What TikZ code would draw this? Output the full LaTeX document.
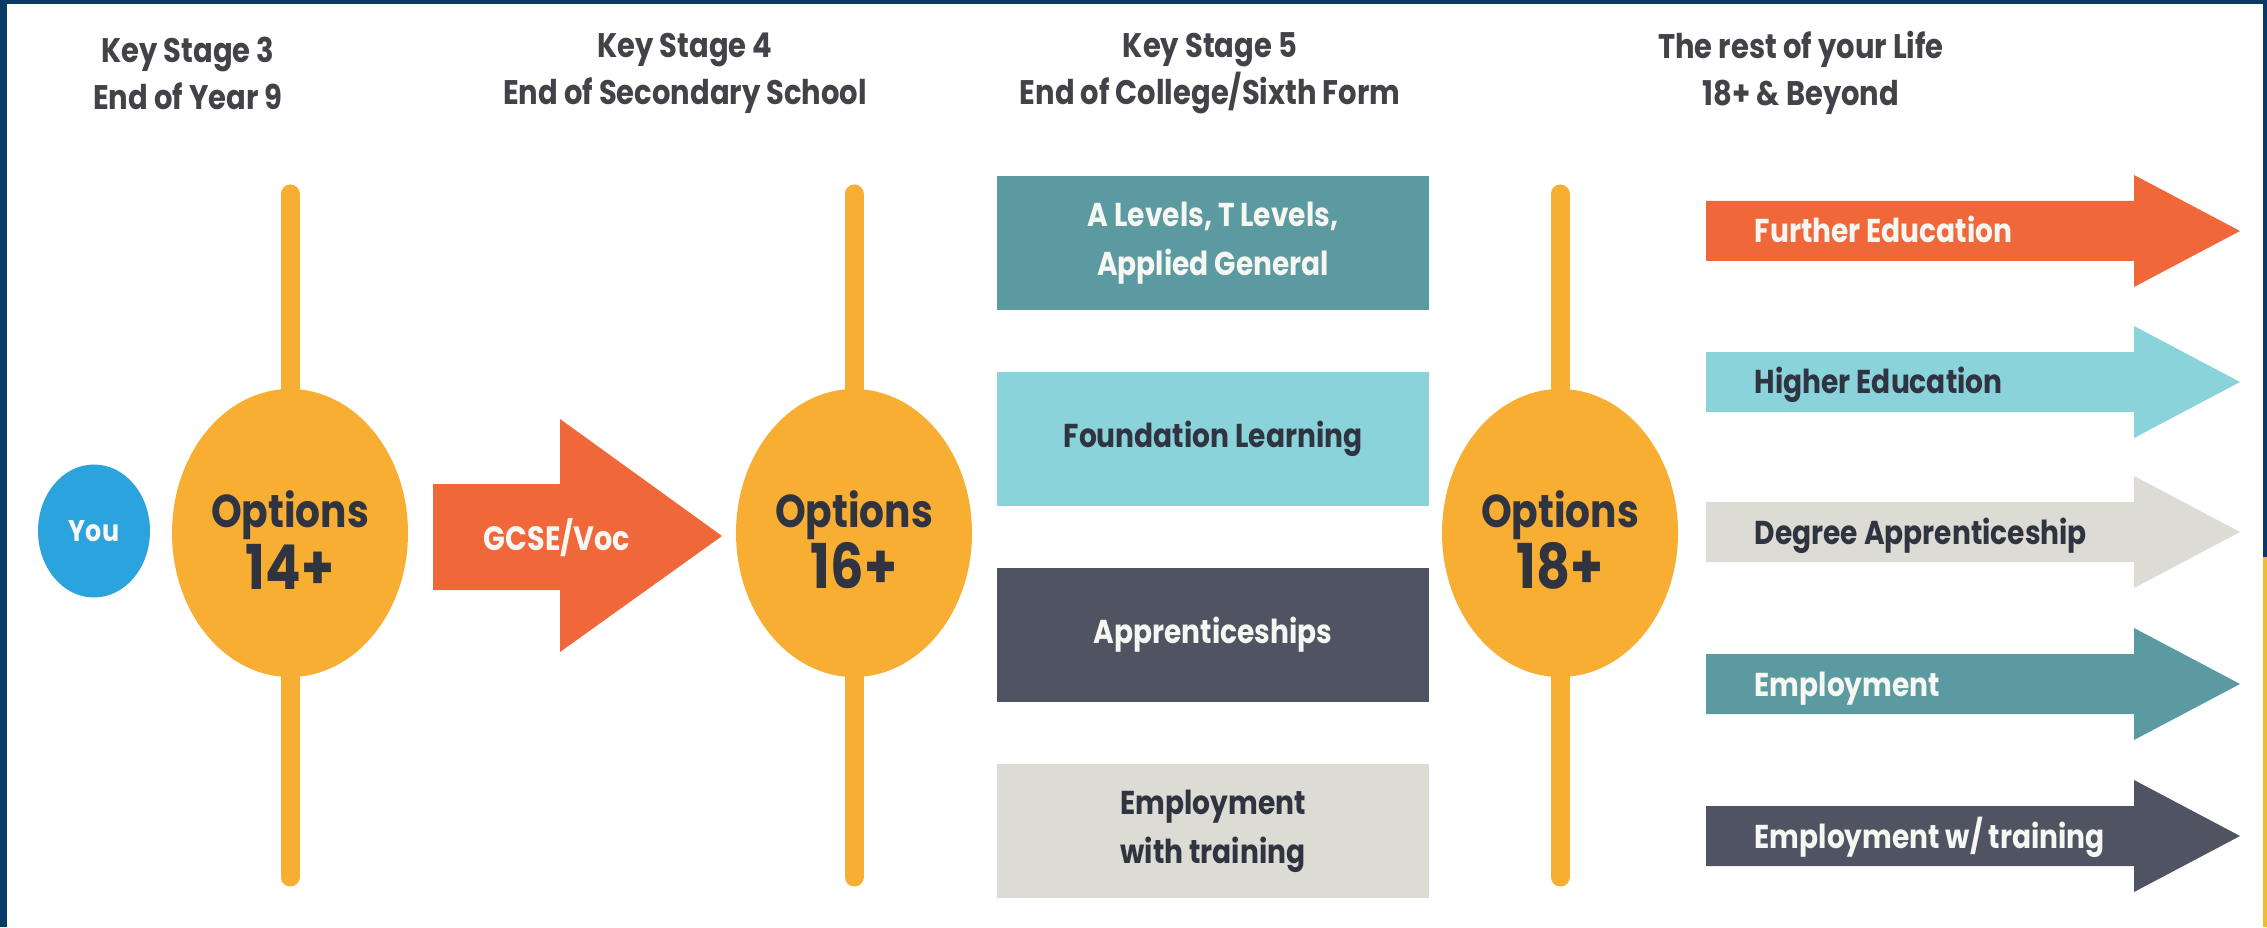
\documentclass[tikz,border=0pt]{standalone}
\usepackage{fontspec}
\setmainfont{Poppins}[FakeStretch=0.85]
\usetikzlibrary{shapes.geometric}

\definecolor{framenavy}{RGB}{10,58,102}
\definecolor{edgegold}{RGB}{242,188,46}
\definecolor{optgold}{RGB}{248,174,51}
\definecolor{youblue}{RGB}{43,163,221}
\definecolor{flame}{RGB}{240,104,58}
\definecolor{deepteal}{RGB}{90,154,160}
\definecolor{paleteal}{RGB}{138,211,219}
\definecolor{slate}{RGB}{80,83,97}
\definecolor{stone}{RGB}{220,220,212}
\definecolor{inkgrey}{RGB}{66,66,72}
\definecolor{inkdark}{RGB}{48,51,64}
\definecolor{chalk}{RGB}{246,246,242}

\begin{document}
\begin{tikzpicture}[y=-1cm,
    ksheader/.style={align=center,text=inkgrey,font=\fontsize{9.7}{13.4}\selectfont\bfseries},
    optring/.style={ellipse,fill=optgold,minimum width=2.36cm,minimum height=2.88cm,inner sep=0pt},
    opttext/.style={align=center,inner sep=0pt,text=inkdark,font=\fontsize{13.1}{17.4}\selectfont\bfseries},
    optstem/.style={draw=optgold,line width=0.19cm,line cap=round},
    stagebox/.style={rectangle,minimum width=4.32cm,minimum height=1.34cm,inner sep=0pt,
        align=center,font=\fontsize{9.4}{13.9}\selectfont\bfseries},
    routetext/.style={anchor=base west,inner sep=0pt,font=\fontsize{9.4}{12}\selectfont\bfseries}]
    \pgfmathsetmacro{\shaftleft}{17.06}
    \pgfmathsetmacro{\headbase}{21.34}
    \pgfmathsetmacro{\tipx}{22.40}
    \pgfmathsetmacro{\shafthalf}{0.30}
    \pgfmathsetmacro{\headhalf}{0.56}
    \providecommand{\routearrow}[2]{\fill[#1] (\shaftleft,#2-\shafthalf) -- (\headbase,#2-\shafthalf)
        -- (\headbase,#2-\headhalf) -- (\tipx,#2) -- (\headbase,#2+\headhalf)
        -- (\headbase,#2+\shafthalf) -- (\shaftleft,#2+\shafthalf) -- cycle;}
    \useasboundingbox (0,0) rectangle (22.67,9.27);
    % frame
    \fill[white] (0,0) rectangle (22.67,9.27);
    \fill[framenavy] (0,0) rectangle (22.67,0.04);
    \fill[framenavy] (0,0) rectangle (0.07,9.27);
    \fill[framenavy] (22.63,0) rectangle (22.67,5.57);
    \fill[edgegold] (22.63,5.57) rectangle (22.67,9.27);
    % headings
    \node[ksheader] (ks3) at (1.88,0.73) {Key Stage 3\\End of Year 9};
    \node[ksheader] (ks4) at (6.85,0.73) {Key Stage 4\\End of Secondary School};
    \node[ksheader] (ks5) at (12.10,0.73) {Key Stage 5\\End of College/Sixth Form};
    \node[ksheader] (life) at (18.01,0.73) {The rest of your Life\\18+ \& Beyond};
    % options stems and circles
    \coordinate (stem14) at (2.90,5.33);
    \coordinate (stem16) at (8.54,5.33);
    \coordinate (stem18) at (15.60,5.33);
    \draw[optstem] (stem14) ++(0,-3.39) -- ++(0,6.83);
    \draw[optstem] (stem16) ++(0,-3.39) -- ++(0,6.83);
    \draw[optstem] (stem18) ++(0,-3.39) -- ++(0,6.83);
    \node[ellipse,fill=youblue,minimum width=1.12cm,minimum height=1.33cm,inner sep=0pt,
        text=chalk,font=\fontsize{8.5}{10}\selectfont\bfseries] (you) at (0.94,5.31) {You};
    \node[optring] (opt14) at (stem14) {};
    \node[optring] (opt16) at (stem16) {};
    \node[optring] (opt18) at (stem18) {};
    \node[opttext] (opt14txt) at ([yshift=-0.07cm]opt14.center) {Options\\{\fontsize{17.6}{17.4}\selectfont 14+}};
    \node[opttext] (opt16txt) at ([yshift=-0.07cm]opt16.center) {Options\\{\fontsize{17.6}{17.4}\selectfont 16+}};
    \node[opttext] (opt18txt) at ([yshift=-0.07cm]opt18.center) {Options\\{\fontsize{17.6}{17.4}\selectfont 18+}};
    % GCSE arrow
    \fill[flame] (4.33,4.84) -- (5.60,4.84) -- (5.60,4.19) -- (7.22,5.36) -- (5.60,6.52)
        -- (5.60,5.90) -- (4.33,5.90) -- cycle;
    \node[text=chalk,font=\fontsize{9.6}{12}\selectfont\bfseries] (gcse) at (5.57,5.38) {GCSE/Voc};
    % key stage 5 choices
    \node[stagebox,fill=deepteal,text=chalk] (alevels) at (12.13,2.43) {A Levels, T Levels,\\Applied General};
    \node[stagebox,fill=paleteal,text=inkdark] (foundation) at (12.13,4.39) {Foundation Learning};
    \node[stagebox,fill=slate,text=chalk] (apprentice) at (12.13,6.35) {Apprenticeships};
    \node[stagebox,fill=stone,text=inkdark] (emptrain) at (12.13,8.31) {Employment\\with training};
    % the rest of your life
    \routearrow{flame}{2.31}
    \routearrow{paleteal}{3.82}
    \routearrow{stone}{5.32}
    \routearrow{deepteal}{6.84}
    \routearrow{slate}{8.36}
    \node[routetext,text=chalk] (further) at (17.54,2.43) {Further Education};
    \node[routetext,text=inkdark] (higher) at (17.54,3.94) {Higher Education};
    \node[routetext,text=inkdark] (degree) at (17.54,5.44) {Degree Apprenticeship};
    \node[routetext,text=chalk] (employ) at (17.54,6.96) {Employment};
    \node[routetext,text=chalk] (employw) at (17.54,8.48) {Employment w/ training};
\end{tikzpicture}
\end{document}
